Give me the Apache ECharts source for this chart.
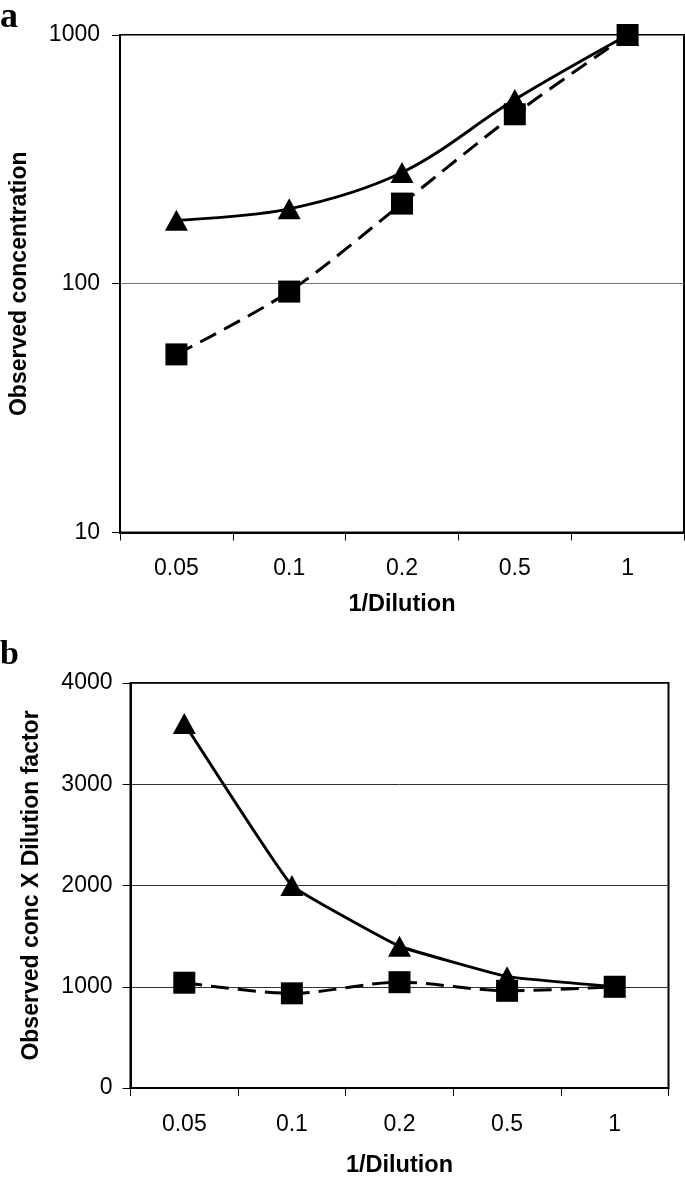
<!DOCTYPE html>
<html>
<head>
<meta charset="utf-8">
<script src="https://cdn.jsdelivr.net/npm/echarts@6/dist/echarts.min.js"></script>
<style>
html,body{margin:0;padding:0;background:#fff;}
#chart{width:685px;height:1179px;}
</style>
</head>
<body>
<div id="chart"></div>
<script>
// Tick labels / categories
var categories = ['0.05', '0.1', '0.2', '0.5', '1'];
// Panel a: observed concentration (log scale)
var aTriangle = [180, 200, 280, 550, 1000];
var aSquare = [52, 93, 210, 480, 1000];
// Panel b: observed conc x dilution factor
var bTriangle = [3600, 2000, 1400, 1100, 1000];
var bSquare = [1040, 935, 1045, 960, 1000];

var FONT = '"Liberation Sans", Arial, sans-serif';
var chart = echarts.init(document.getElementById('chart'), null, {renderer: 'canvas'});

function plain(v) { return String(Math.round(v)); }

function xAxisCfg(gridIndex, nameGap) {
  return {
    type: 'category', gridIndex: gridIndex, data: categories, boundaryGap: true,
    name: '1/Dilution', nameLocation: 'middle', nameGap: nameGap,
    nameTextStyle: {fontFamily: FONT, fontSize: 23.5, fontWeight: 'bold', color: '#000'},
    axisLine: {show: true, lineStyle: {color: '#000', width: 2}},
    axisTick: {show: true, inside: false, length: 8, alignWithLabel: false, lineStyle: {color: '#000', width: 1}},
    axisLabel: {fontFamily: FONT, fontSize: 23, color: '#000', margin: 25},
    splitLine: {show: false}
  };
}

var option = {
  animation: false,
  backgroundColor: '#fff',
  grid: [
    {left: 112, top: 35, width: 572, height: 497.5, show: true, borderColor: '#000', borderWidth: 2, backgroundColor: 'transparent'},
    {left: 130.5, top: 683, width: 538, height: 410, show: true, borderColor: '#000', borderWidth: 2, backgroundColor: 'transparent'}
  ],
  xAxis: [xAxisCfg(0, 60), xAxisCfg(1, 66)],
  yAxis: [
    {
      type: 'log', logBase: 10, gridIndex: 0, min: 10, max: 1000,
      name: 'Observed concentration', nameLocation: 'middle', nameGap: 89, nameRotate: 90,
      nameTextStyle: {fontFamily: FONT, fontSize: 23, fontWeight: 'bold', color: '#000'},
      axisLine: {show: true, lineStyle: {color: '#000', width: 2}},
      axisTick: {show: true, inside: false, length: 8, lineStyle: {color: '#000', width: 1}},
      minorTick: {show: false},
      axisLabel: {fontFamily: FONT, fontSize: 23, color: '#000', margin: 20, formatter: plain},
      splitLine: {show: true, lineStyle: {color: '#777', width: 1}}
    },
    {
      type: 'value', gridIndex: 1, min: 0, max: 4000, interval: 1000,
      name: 'Observed conc X Dilution factor', nameLocation: 'middle', nameGap: 87, nameRotate: 90,
      nameTextStyle: {fontFamily: FONT, fontSize: 23, fontWeight: 'bold', color: '#000'},
      axisLine: {show: true, lineStyle: {color: '#000', width: 2}},
      axisTick: {show: true, inside: false, length: 8, lineStyle: {color: '#000', width: 1}},
      axisLabel: {fontFamily: FONT, fontSize: 23, color: '#000', margin: 18, formatter: plain},
      splitLine: {show: true, lineStyle: {color: '#333', width: 1}}
    }
  ],
  series: [
    {type: 'line', xAxisIndex: 0, yAxisIndex: 0, data: aTriangle, smooth: 0.35,
     symbol: 'triangle', symbolSize: [23, 21], showSymbol: true,
     lineStyle: {color: '#000', width: 3, type: 'solid'}, itemStyle: {color: '#000', borderWidth: 0}, z: 3},
    {type: 'line', xAxisIndex: 0, yAxisIndex: 0, data: aSquare, smooth: 0.3,
     symbol: 'rect', symbolSize: 22, showSymbol: true,
     lineStyle: {color: '#000', width: 3, type: [18, 9]}, itemStyle: {color: '#000', borderWidth: 0}, z: 4},
    {type: 'line', xAxisIndex: 1, yAxisIndex: 1, data: bTriangle, smooth: 0.08,
     symbol: 'triangle', symbolSize: [23, 21], showSymbol: true,
     lineStyle: {color: '#000', width: 3, type: 'solid'}, itemStyle: {color: '#000', borderWidth: 0}, z: 3},
    {type: 'line', xAxisIndex: 1, yAxisIndex: 1, data: bSquare, smooth: 0.3,
     symbol: 'rect', symbolSize: 22, showSymbol: true,
     lineStyle: {color: '#000', width: 3, type: [18, 9]}, itemStyle: {color: '#000', borderWidth: 0}, z: 4}
  ],
  graphic: [
    {type: 'text', left: 0, top: 0, style: {text: 'a', fontFamily: '"Liberation Serif", "Times New Roman", serif', fontSize: 36, fontWeight: 'bold', fill: '#000'}},
    {type: 'text', left: 0, top: 638, style: {text: 'b', fontFamily: '"Liberation Serif", "Times New Roman", serif', fontSize: 34, fontWeight: 'bold', fill: '#000'}}
  ]
};
chart.setOption(option);
</script>
</body>
</html>
